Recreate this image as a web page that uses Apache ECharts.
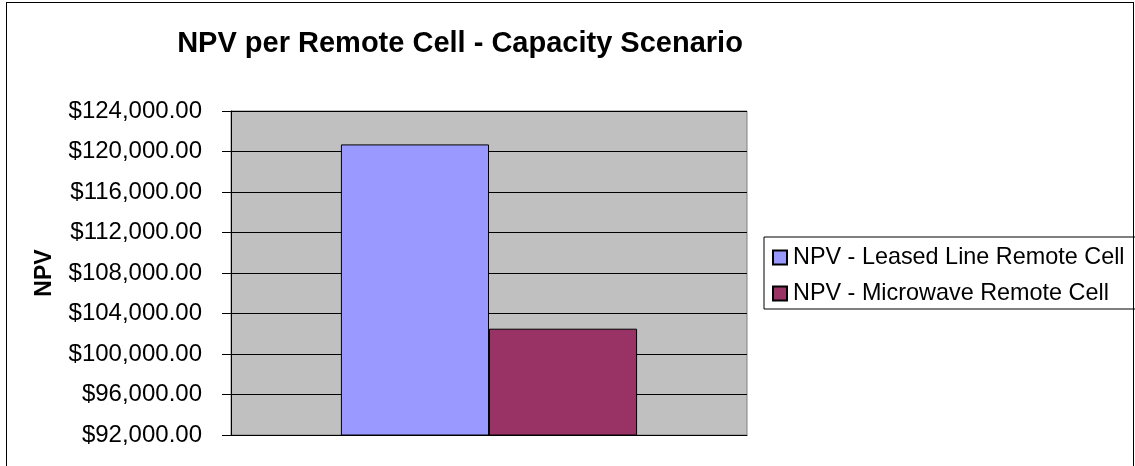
<!DOCTYPE html>
<html>
<head>
<meta charset="utf-8">
<script src="https://cdn.jsdelivr.net/npm/echarts@6/dist/echarts.min.js"></script>
<style>
    body { margin: 0; background: #fff; }
    #chart_div { position: absolute; left: 0; top: 0; width: 1135px; height: 466px; }
    #frame { position: absolute; left: 6px; top: 2px; width: 1126px; height: 480px; border: 1px solid #000; pointer-events: none; }
</style>
</head>
<body>
<div id="chart_div"></div>
<div id="frame"></div>
<script>
    // data
    var categories = ['Capacity'];
    var seriesNames = ['NPV - Leased Line Remote Cell', 'NPV - Microwave Remote Cell'];
    var leasedLine = [120700];
    var microwave = [102500];
    var seriesColors = ['#9999FF', '#993366'];

    function money(v) {
        var s = Math.round(v).toString().replace(/\B(?=(\d{3})+(?!\d))/g, ',');
        return '$' + s + '.00';
    }

    var myChart = echarts.init(document.getElementById('chart_div'));
    myChart.setOption({
        animation: false,
        textStyle: { fontFamily: 'Liberation Sans, Arial, sans-serif' },
        title: {
            text: 'NPV per Remote Cell - Capacity Scenario',
            left: 455,
            textAlign: 'center',
            top: 24,
            textStyle: { fontSize: 29, fontWeight: 'bold', color: '#000' }
        },
        legend: {
            orient: 'vertical',
            left: 764,
            top: 237,
            padding: [9, 80, 4, 8],
            itemGap: 13,
            itemWidth: 14,
            itemHeight: 14,
            icon: 'rect',
            borderColor: '#000',
            borderWidth: 1,
            backgroundColor: '#fff',
            textStyle: { fontSize: 23.4, color: '#000', padding: [0, 0, 0, 1] },
            data: seriesNames
        },
        grid: {
            left: 231,
            right: 388,
            top: 111,
            bottom: 31,
            show: true,
            backgroundColor: '#C0C0C0',
            borderColor: '#808080',
            borderWidth: 1
        },
        xAxis: {
            type: 'category',
            data: categories,
            axisLine: { lineStyle: { color: '#000' } },
            axisTick: { show: false },
            axisLabel: { show: false }
        },
        yAxis: {
            type: 'value',
            min: 92000,
            max: 124000,
            interval: 4000,
            name: 'NPV',
            nameLocation: 'middle',
            nameGap: 175,
            nameTextStyle: { fontSize: 23, fontWeight: 'bold', color: '#000' },
            axisLine: { show: true, lineStyle: { color: '#000' } },
            axisTick: { show: true, length: 9, lineStyle: { color: '#000' } },
            splitLine: { lineStyle: { color: '#000', width: 1 } },
            axisLabel: {
                fontSize: 24,
                color: '#000',
                margin: 29,
                formatter: money
            }
        },
        series: [
            {
                name: seriesNames[0],
                type: 'bar',
                data: leasedLine,
                barGap: '0%',
                barCategoryGap: '42.6%',
                itemStyle: { color: seriesColors[0], borderColor: '#000', borderWidth: 1 }
            },
            {
                name: seriesNames[1],
                type: 'bar',
                data: microwave,
                itemStyle: { color: seriesColors[1], borderColor: '#000', borderWidth: 1 }
            }
        ]
    });
</script>
</body>
</html>
